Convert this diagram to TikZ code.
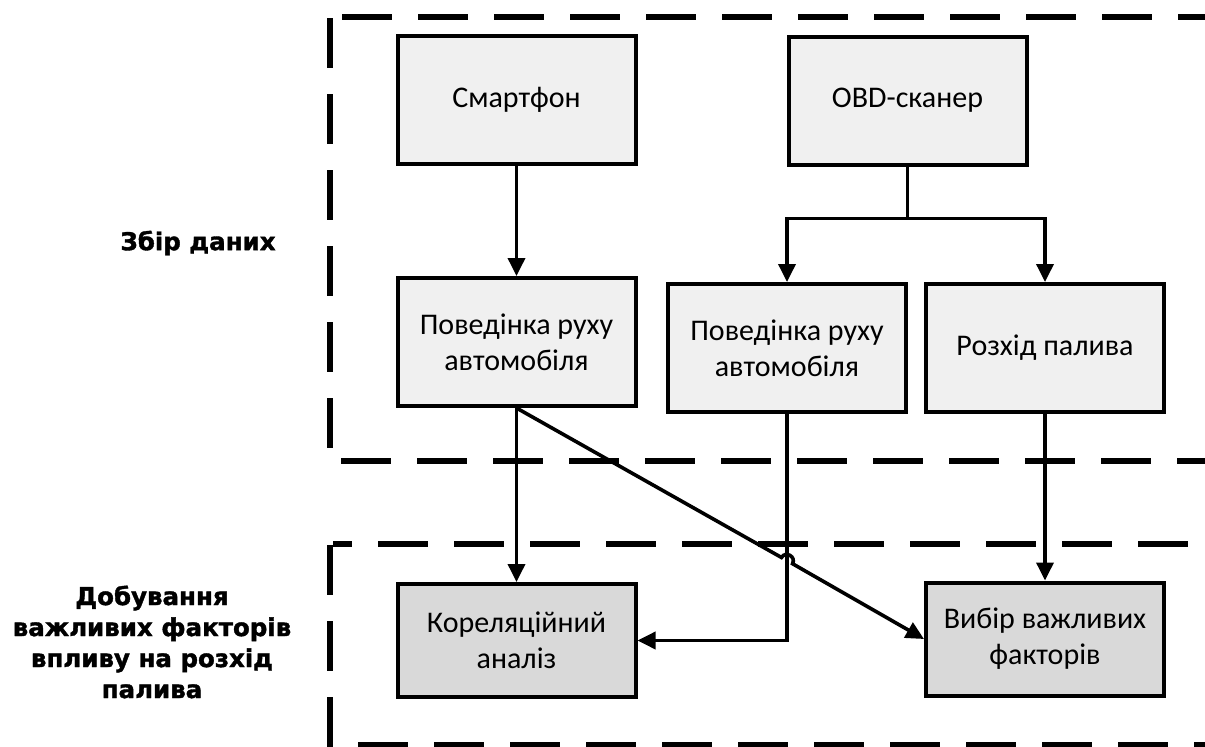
\documentclass[tikz,border=0pt]{standalone}
\usepackage{fontspec}
\setmainfont{Carlito}
\newfontfamily\headfont{DejaVu Sans}[BoldFeatures={FakeBold=1.5}]
\usepackage{tikz}
\usetikzlibrary{arrows.meta}

\definecolor{lightbox}{HTML}{F0F0F0}
\definecolor{darkbox}{HTML}{D9D9D9}

\tikzset{
  block/.style={draw, line width=4pt, fill=lightbox, minimum width=238pt,
    minimum height=128pt, inner sep=0pt, align=center,
    font=\fontsize{30}{36}\selectfont},
  result/.style={block, fill=darkbox, minimum height=113pt},
  link/.style={line width=3.6pt, -{Triangle[length=18pt,width=17pt]}},
  region/.style={line width=5.5pt, dash pattern=on 50pt off 26pt},
  stage/.style={font=\headfont\bfseries\fontsize{24.5}{31}\selectfont, align=center}
}

\begin{document}
\begin{tikzpicture}[x=1pt,y=-1pt]
        \useasboundingbox (0,0) rectangle (1205,747);

        % Regions
        \draw[region] (342,17) -- (1205,17);
        \draw[region] (330,18) -- (330,461);
        \draw[region] (341,461) -- (1205,461);
        \draw[region, dash phase=31pt] (333,544) -- (1205,544);
        \draw[region] (330,545) -- (330,747);
        \draw[region] (358,745) -- (1205,745);

        % Stage labels
        \node[stage] (collect) at (198,243) {Збір даних};
        \node[stage] (extract) at (152,642) {Добування\\важливих факторів\\впливу на розхід\\палива};

        % Data sources
        \node[block] (phone) at (516.5,100) {Смартфон};
        \node[block] (obd) at (907.5,100.5) {OBD-сканер};

        % Collected data
        \node[block] (drive1) at (516.5,342) {Поведінка руху\\автомобіля};
        \node[block] (drive2) at (787,348) {Поведінка руху\\автомобіля};
        \node[block] (fuel) at (1045,348) {Розхід палива};

        % Analysis
        \node[result] (corr) at (516.5,640.5) {Кореляційний\\аналіз};
        \node[result] (select) at (1045,639) {Вибір важливих\\факторів};

        % Connectors
        \draw[link] (phone) -- (drive1);
        \draw[link] (obd.south) -- ++(0,52) -| (drive2.north);
        \draw[link] (obd.south) -- ++(0,52) -| (fuel.north);
        \draw[link] (drive1) -- (corr);
        \draw[link] (fuel) -- (select);
        \draw[link] (drive2.south) |- (corr.east);

        % Diagonal with a hop over the vertical line
        \coordinate (hopA) at (781.5,557.5);
        \coordinate (hopB) at (792.5,563.7);
        \draw[link] (drive1.south) -- (hopA)
            .. controls (785.5,550.5) and (796.4,556.7) .. (hopB) -- (select.west);

    \end{tikzpicture}
\end{document}
